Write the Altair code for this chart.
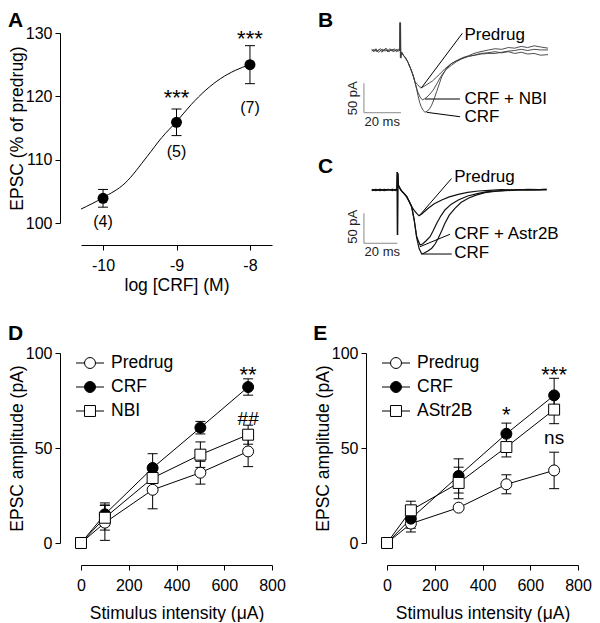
import altair as alt
import pandas as pd

FONT = "Liberation Sans"
W, H = 191, 190

# ---------------- Panel A : concentration-response ----------------
a_logc = [-10, -9, -8]
a_mean = [103.9, 115.9, 125.0]
a_sem = [1.4, 2.1, 3.0]
a_n_labels = ["(4)", "(5)", "(7)"]
a_n_pos = [100.2, 111.2, 118.2]
a_sig_x = [-9, -8]
a_sig_labels = ["***", "***"]
a_sig_pos = [119.7, 129.0]
a_fit_x = [-10.3, -10.0, -9.7, -9.4, -9.2, -9.0, -8.8, -8.6, -8.4, -8.2, -8.0]
a_fit_y = [102.2, 104.0, 106.3, 110.5, 113.5, 116.0, 118.7, 121.0, 122.8, 124.1, 125.0]

# ---------------- Panels D / E : input-output ----------------
stim_x = [0, 100, 300, 500, 700]
d_names = ["Predrug", "CRF", "NBI"]
d_means = [[0, 10.7, 28.0, 37.0, 48.2],
           [0, 15.1, 39.5, 60.7, 82.1],
           [0, 13.3, 34.2, 46.5, 57.0]]
d_sems = [[0, 9.3, 10.0, 6.0, 8.0],
          [0, 6.0, 7.5, 3.3, 4.3],
          [0, 6.5, 5.0, 6.7, 5.0]]
d_star_x = [700]
d_star_y = [88.6]
d_star_text = ["**"]
d_note_x = [700]
d_note_y = [65.5]
d_note_text = ["##"]

e_names = ["Predrug", "CRF", "AStr2B"]
e_means = [[0, 10.2, 18.6, 30.9, 38.2],
           [0, 12.8, 35.3, 57.5, 77.7],
           [0, 17.2, 31.6, 50.5, 70.2]]
e_sems = [[0, 4.4, 1.0, 5.0, 9.6],
          [0, 5.0, 9.0, 5.6, 9.0],
          [0, 4.8, 8.3, 5.2, 7.4]]
e_star_x = [500, 700]
e_star_y = [67.6, 88.6]
e_star_text = ["*", "***"]
e_note_x = [700]
e_note_y = [55.3]
e_note_text = ["ns"]

# ---------------- Panel B traces (t in ms, current in pA) ----------------
b_predrug = [(-15.3, 1), (-14.2, -2), (-13.0, 3), (-12.1, -1), (-11.0, 2), (-9.8, -3), (-8.7, 1),
             (-7.5, 4), (-6.4, -2), (-5.2, 1), (-4.1, -1), (-3.0, 3), (-1.8, -2), (-0.6, 1),
             (-0.2, 0), (0.0, 48), (0.2, -12), (0.5, -4), (1.0, -3), (1.8, -8), (3.0, -12),
             (4.3, -20), (5.5, -29), (6.5, -37), (7.4, -45), (8.1, -53), (9.5, -58), (10.6, -62),
             (11.7, -63), (13.0, -61), (14.5, -58), (16.0, -55), (17.5, -52), (19.5, -46),
             (21.5, -40), (24.3, -31), (27.0, -24), (29.5, -19), (31.4, -16), (34.0, -12),
             (37.0, -9), (40.0, -5), (42.2, -3), (45.0, -1), (48.0, 1), (51.4, 3), (55.0, 2),
             (58.5, 5), (62.0, 4), (65.5, 7), (69.0, 5), (72.5, 8), (76.0, 6), (80.0, 4)]
b_crf_nbi = [(-15.3, -1), (-14.0, 2), (-12.8, -2), (-11.6, 1), (-10.4, 3), (-9.2, -1), (-8.0, 2),
             (-6.8, -2), (-5.6, 3), (-4.4, 0), (-3.2, -2), (-2.0, 2), (-0.8, -1), (-0.1, 1),
             (0.1, 46), (0.35, -10), (0.7, -3), (1.1, -4), (1.8, -8), (3.0, -13), (4.3, -20),
             (5.5, -29), (6.5, -37), (7.4, -46), (8.1, -54), (9.0, -64), (9.7, -71), (10.8, -79),
             (12.1, -84), (13.4, -82), (14.6, -79), (16.2, -74), (18.0, -67), (20.2, -55),
             (22.5, -42), (25.0, -32), (27.9, -25), (30.5, -19), (33.5, -14), (36.9, -10),
             (40.0, -8), (43.5, -5), (47.0, -4), (51.4, -2), (55.0, -4), (58.5, -2), (62.0, -5),
             (65.5, -3), (69.0, -6), (72.5, -5), (76.0, -8), (80.0, -7)]
b_crf = [(-15.3, 2), (-14.1, -1), (-12.9, 1), (-11.7, -3), (-10.5, 0), (-9.3, 2), (-8.1, -1),
         (-6.9, 1), (-5.7, -2), (-4.5, 2), (-3.3, 1), (-2.1, -1), (-0.9, 2), (0.1, 0),
         (0.3, 47), (0.5, -13), (0.8, -5), (1.2, -4), (1.8, -8), (3.0, -13), (4.3, -20),
         (5.5, -29), (6.5, -37), (7.4, -46), (8.1, -54), (9.0, -66), (9.7, -76), (10.6, -88),
         (11.4, -95), (12.5, -102), (13.5, -105), (14.8, -103), (16.0, -99), (17.1, -93),
         (18.5, -82), (19.8, -70), (21.2, -57), (22.5, -45), (25.0, -31), (27.9, -22),
         (31.0, -17), (34.0, -13), (36.9, -10), (40.5, -8), (44.0, -6), (47.5, -5), (51.4, -5),
         (55.0, -3), (58.5, -1), (62.0, 0), (65.5, 2), (69.0, 0), (72.5, 2), (76.0, 1), (80.0, 1)]
b_label_text = ["Predrug", "CRF + NBI", "CRF"]
b_label_t = [34.8, 34.8, 34.8]
b_label_pa = [26.0, -82.5, -112.5]
b_lead_t0 = [11.4, 13.5, 14.4]
b_lead_p0 = [-64.3, -82.5, -105.1]
b_lead_t1 = [33.7, 32.4, 32.4]
b_lead_p1 = [29.3, -82.5, -112.6]
b_bar_t0 = [-19.5, -19.5]
b_bar_p0 = [-105.8, -105.8]
b_bar_t1 = [-19.5, 0.5]
b_bar_p1 = [-55.8, -105.8]

# ---------------- Panel C traces ----------------
c_predrug = [(-15.4, 0), (-13.0, 1), (-10.5, -1), (-8.0, 1), (-5.5, 0), (-3.0, 1), (-1.0, -1),
             (-0.3, 0), (-0.1, 30), (0.0, -75), (0.15, 28), (0.5, 8), (1.2, 4), (2.5, -2),
             (4.0, -6), (5.5, -11), (7.0, -19), (8.5, -28), (10.0, -34), (11.5, -39), (12.9, -43),
             (14.5, -40), (16.5, -35), (18.4, -30.5), (22.0, -23), (26.5, -16.7), (31.0, -11.5),
             (36.4, -7.2), (42.0, -4), (48.4, -1.7), (55.0, -0.5), (62.0, 0.5), (70.0, 0),
             (78.0, 1), (85.0, 0.5), (89.3, 1.5)]
c_crf_astr = [(-15.4, 1), (-13.0, -1), (-10.5, 1), (-8.0, 0), (-5.5, 1), (-3.0, -1), (-1.0, 1),
              (-0.3, 0), (-0.1, 30), (0.0, -75), (0.15, 28), (0.5, 8), (1.2, 4), (2.5, -2),
              (4.0, -6), (5.5, -11), (7.0, -19), (8.5, -28), (10.0, -50), (11.5, -78),
              (13.5, -91.7), (15.0, -90), (17.0, -85), (19.5, -77.8), (21.5, -67), (23.5, -55.5),
              (26.0, -43), (28.4, -33.3), (32.0, -24), (36.4, -16.7), (42.0, -10), (48.4, -5.5),
              (53.0, -3), (58.4, -1.7), (65.0, -0.5), (72.0, 0.5), (80.0, 0), (89.3, 0.8)]
c_crf = [(-15.4, -1), (-13.0, 0), (-10.5, 1), (-8.0, -1), (-5.5, 0), (-3.0, 1), (-1.0, 0),
         (-0.3, 0), (-0.1, 30), (0.0, -75), (0.15, 28), (0.5, 8), (1.2, 4), (2.5, -2),
         (4.0, -6), (5.5, -11), (7.0, -19), (8.5, -28), (10.0, -50), (11.5, -80), (13.0, -98),
         (14.5, -106.7), (16.0, -105), (18.0, -102), (20.5, -97), (22.5, -90), (24.4, -80.5),
         (26.5, -68), (28.4, -55.5), (31.0, -42), (34.4, -30.5), (38.0, -21), (42.4, -13.8),
         (47.0, -8.5), (52.4, -4.5), (58.0, -2.5), (64.4, -1.2), (72.0, 0), (80.0, 0.5), (89.3, 0)]
c_label_text = ["Predrug", "CRF + Astr2B", "CRF"]
c_label_t = [34.0, 34.0, 34.0]
c_label_pa = [22.5, -73.0, -105.0]
c_lead_t0 = [12.9, 13.5, 14.9]
c_lead_p0 = [-43.3, -94.5, -106.7]
c_lead_t1 = [32.3, 31.4, 32.5]
c_lead_p1 = [19.0, -73.8, -106.7]
c_bar_t0 = [-20.1, -20.1]
c_bar_p0 = [-88.8, -88.8]
c_bar_t1 = [-20.1, -0.1]
c_bar_p1 = [-38.8, -88.8]

scale_texts = ["50 pA", "20 ms"]
b_scale_t = [-25.6, -9.6]
b_scale_pa = [-81.3, -121.1]
c_scale_t = [-26.8, -9.1]
c_scale_pa = [-61.2, -102.8]


# ---------------- helpers ----------------
def x_axis(values, title, title_pad, label_expr="'' + datum.value"):
    return alt.Axis(values=values, title=title, offset=22, grid=False,
                    domainColor="black", domainWidth=1, tickColor="black", tickSize=5,
                    tickWidth=1, labelColor="black", labelFontSize=16, labelFont=FONT,
                    labelPadding=7, labelFlush=False, labelOverlap=False, labelExpr=label_expr,
                    titleColor="black", titleFontSize=17.5, titleFont=FONT,
                    titleFontWeight="normal", titlePadding=title_pad)


def y_axis(values, title):
    return alt.Axis(values=values, title=title, offset=21, grid=False,
                    domainColor="black", domainWidth=1, tickColor="black", tickSize=5,
                    tickWidth=1, labelColor="black", labelFontSize=16, labelFont=FONT,
                    labelPadding=3, labelFlush=False, labelOverlap=False,
                    titleColor="black", titleFontSize=17.5, titleFont=FONT,
                    titleFontWeight="normal", titlePadding=-1)


def letter(ch, x, y):
    return alt.Chart(pd.DataFrame({"lbl": [ch]})).mark_text(
        fontSize=21, fontWeight="bold", align="left", baseline="top", color="black", font=FONT
    ).encode(x=alt.value(x), y=alt.value(y), text="lbl:N")


# ---------------- Panel A ----------------
xa = alt.Scale(domain=[-10.3, -7.7], nice=False, zero=False)
ya = alt.Scale(domain=[100, 130], nice=False, zero=False)
ax_xa = x_axis([-10, -9, -8], "log [CRF] (M)", 3)
ax_ya = y_axis([100, 110, 120, 130], "EPSC (% of predrug)")
XA = alt.X("logc:Q", scale=xa, axis=ax_xa)

df_a = pd.DataFrame({"logc": a_logc, "mean": a_mean, "sem": a_sem, "n": a_n_labels, "npos": a_n_pos})
df_fit = pd.DataFrame({"logc": a_fit_x, "val": a_fit_y})
df_asig = pd.DataFrame({"logc": a_sig_x, "sig": a_sig_labels, "pos": a_sig_pos})

a_fit = alt.Chart(df_fit).mark_line(color="black", strokeWidth=1, interpolate="monotone").encode(
    x=XA, y=alt.Y("val:Q", scale=ya, axis=ax_ya))
a_base = alt.Chart(df_a).transform_calculate(lo="datum.mean - datum.sem", hi="datum.mean + datum.sem")
a_err = a_base.mark_rule(color="black", strokeWidth=1).encode(
    x=XA, y=alt.Y("lo:Q", scale=ya, axis=ax_ya), y2="hi:Q")
a_caps = a_base.transform_fold(["lo", "hi"], as_=["end", "v"]).mark_tick(
    orient="horizontal", size=10, thickness=1, color="black", opacity=1).encode(
    x=XA, y=alt.Y("v:Q", scale=ya, axis=ax_ya))
a_pts = alt.Chart(df_a).mark_point(filled=True, size=120, color="black", opacity=1).encode(
    x=XA, y=alt.Y("mean:Q", scale=ya, axis=ax_ya))
a_n = alt.Chart(df_a).mark_text(fontSize=16, color="black", baseline="middle").encode(
    x=XA, y=alt.Y("npos:Q", scale=ya, axis=ax_ya), text="n:N")
a_sig = alt.Chart(df_asig).mark_text(fontSize=22, color="black", baseline="middle").encode(
    x=XA, y=alt.Y("pos:Q", scale=ya, axis=ax_ya), text="sig:N")

panel_a = alt.layer(a_fit, a_err, a_caps, a_pts, a_n, a_sig, letter("A", -73, -23)).properties(
    width=W, height=H)


# ---------------- Panels D / E ----------------
def stim_panel(names, means, sems, star_x, star_y, star_text, note_x, note_y, note_text,
               ch, ch_x):
    rows = []
    for name, m, s in zip(names, means, sems):
        for xv, mv, sv in zip(stim_x, m, s):
            rows.append({"series": name, "x": xv, "y": mv, "sem": sv})
    df = pd.DataFrame(rows)
    xs = alt.Scale(domain=[0, 800], nice=False, zero=False)
    ys = alt.Scale(domain=[0, 100], nice=False, zero=False)
    ax = x_axis([0, 200, 400, 600, 800], "Stimulus intensity (\u03bcA)", 11)
    ay = y_axis([0, 50, 100], "EPSC amplitude (pA)")
    X = alt.X("x:Q", scale=xs, axis=ax)
    shape = alt.Shape("series:N", scale=alt.Scale(domain=names, range=["circle", "circle", "square"]),
                      legend=None)
    fill = alt.Fill("series:N", scale=alt.Scale(domain=names, range=["white", "black", "white"]),
                    legend=None)
    base = alt.Chart(df).transform_filter("datum.sem > 0").transform_calculate(
        lo="datum.y - datum.sem", hi="datum.y + datum.sem")
    err = base.mark_rule(color="black", strokeWidth=1).encode(
        x=X, y=alt.Y("lo:Q", scale=ys, axis=ay), y2="hi:Q")
    caps = base.transform_fold(["lo", "hi"], as_=["end", "v"]).mark_tick(
        orient="horizontal", size=10, thickness=1, color="black", opacity=1).encode(
        x=X, y=alt.Y("v:Q", scale=ys, axis=ay))
    lines = alt.Chart(df).mark_line(color="black", strokeWidth=1).encode(
        x=X, y=alt.Y("y:Q", scale=ys, axis=ay), detail="series:N")
    pts = alt.Chart(df).mark_point(filled=True, size=120, stroke="black", strokeWidth=1,
                                   opacity=1).encode(
        x=X, y=alt.Y("y:Q", scale=ys, axis=ay), shape=shape, fill=fill)
    stars = alt.Chart(pd.DataFrame({"x": star_x, "y": star_y, "t": star_text})).mark_text(
        fontSize=22, color="black", baseline="middle").encode(
        x=X, y=alt.Y("y:Q", scale=ys, axis=ay), text="t:N")
    notes = alt.Chart(pd.DataFrame({"x": note_x, "y": note_y, "t": note_text})).mark_text(
        fontSize=19, color="black", baseline="middle").encode(
        x=X, y=alt.Y("y:Q", scale=ys, axis=ay), text="t:N")
    main = alt.layer(err, caps, lines, pts, stars, notes)

    leg_base = alt.Chart(pd.DataFrame({"series": names})).transform_window(row="row_number()")
    leg_y = alt.Y("row:Q", scale=alt.Scale(domain=[1, 3], range=[10, 58], nice=False, zero=False),
                  axis=None)
    leg_rule = leg_base.mark_rule(color="black", strokeWidth=1).encode(
        x=alt.value(-5), x2=alt.value(23), y=leg_y)
    leg_pts = leg_base.mark_point(filled=True, size=120, stroke="black", strokeWidth=1,
                                  opacity=1).encode(
        x=alt.value(9), y=leg_y, shape=shape, fill=fill)
    leg_txt = leg_base.mark_text(align="left", baseline="middle", fontSize=17.5,
                                 color="black").encode(
        x=alt.value(30), y=leg_y, text="series:N")
    legend = alt.layer(leg_rule, leg_pts, leg_txt)
    return alt.layer(main, legend, letter(ch, ch_x, -29.6)).resolve_scale(y="independent").properties(
        width=W, height=H)


panel_d = stim_panel(d_names, d_means, d_sems, d_star_x, d_star_y, d_star_text,
                     d_note_x, d_note_y, d_note_text, "D", -73)
panel_e = stim_panel(e_names, e_means, e_sems, e_star_x, e_star_y, e_star_text,
                     e_note_x, e_note_y, e_note_text, "E", -73.7)


# ---------------- Panels B / C (traces) ----------------
def trace_panel(traces, names, color, width, xdom, xrange, ydom, yrange,
                lab_t, lab_p, lab_txt, l_t0, l_p0, l_t1, l_p1,
                bar_t0, bar_p0, bar_t1, bar_p1, sc_t, sc_p):
    rows = []
    for name, tr in zip(names, traces):
        for t, p in tr:
            rows.append({"trace": name, "t": t, "pA": p})
    df = pd.DataFrame(rows)
    xs = alt.Scale(domain=xdom, range=xrange, nice=False, zero=False)
    ys = alt.Scale(domain=ydom, range=yrange, nice=False, zero=False)
    lines = alt.Chart(df).mark_line(color=color, strokeWidth=width).encode(
        x=alt.X("t:Q", scale=xs, axis=None), y=alt.Y("pA:Q", scale=ys, axis=None),
        detail="trace:N")
    leads = alt.Chart(pd.DataFrame({"t0": l_t0, "p0": l_p0, "t1": l_t1, "p1": l_p1})).mark_rule(
        color="black", strokeWidth=1).encode(
        x=alt.X("t0:Q", scale=xs, axis=None), y=alt.Y("p0:Q", scale=ys, axis=None),
        x2="t1:Q", y2="p1:Q")
    labels = alt.Chart(pd.DataFrame({"t": lab_t, "pA": lab_p, "txt": lab_txt})).mark_text(
        align="left", baseline="middle", fontSize=17, color="black").encode(
        x=alt.X("t:Q", scale=xs, axis=None), y=alt.Y("pA:Q", scale=ys, axis=None), text="txt:N")
    bars = alt.Chart(pd.DataFrame({"t0": bar_t0, "p0": bar_p0, "t1": bar_t1, "p1": bar_p1})).mark_rule(
        color="#8a8a8a", strokeWidth=1).encode(
        x=alt.X("t0:Q", scale=xs, axis=None), y=alt.Y("p0:Q", scale=ys, axis=None),
        x2="t1:Q", y2="p1:Q")
    sdf = pd.DataFrame({"t": sc_t, "pA": sc_p, "txt": scale_texts})
    s_v = alt.Chart(sdf).transform_filter("datum.txt == '50 pA'").mark_text(
        fontSize=13, angle=270, baseline="middle", color="#222").encode(
        x=alt.X("t:Q", scale=xs, axis=None), y=alt.Y("pA:Q", scale=ys, axis=None), text="txt:N")
    s_h = alt.Chart(sdf).transform_filter("datum.txt == '20 ms'").mark_text(
        fontSize=13, baseline="middle", color="#222").encode(
        x=alt.X("t:Q", scale=xs, axis=None), y=alt.Y("pA:Q", scale=ys, axis=None), text="txt:N")
    return alt.layer(bars, lines, leads, labels, s_v, s_h)


panel_b = trace_panel([b_predrug, b_crf_nbi, b_crf], b_label_text, "#3a3a3a", 0.9,
                      [-20, 80], [-24, 161], [-150, 50], [105.7, -11.9],
                      b_label_t, b_label_pa, b_label_text,
                      b_lead_t0, b_lead_p0, b_lead_t1, b_lead_p1,
                      b_bar_t0, b_bar_p0, b_bar_t1, b_bar_p1, b_scale_t, b_scale_pa)
panel_c = trace_panel([c_predrug, c_crf_astr, c_crf], c_label_text, "#111111", 1.2,
                      [-20, 90], [-22.9, 160.8], [-150, 50], [247, 127],
                      c_label_t, c_label_pa, c_label_text,
                      c_lead_t0, c_lead_p0, c_lead_t1, c_lead_p1,
                      c_bar_t0, c_bar_p0, c_bar_t1, c_bar_p1, c_scale_t, c_scale_pa)

panel_bc = alt.layer(panel_b, panel_c, letter("B", -69, -23), letter("C", -69, 123.4)).resolve_scale(
    x="independent", y="independent").properties(width=W, height=H)

chart = alt.concat(panel_a, panel_bc, panel_d, panel_e, columns=2,
                   spacing={"row": 130, "column": 115}, bounds="flush",
                   padding={"left": 0, "top": 2, "right": 0, "bottom": 0}).resolve_scale(
    shape="independent", fill="independent").configure(
    font=FONT).configure_view(stroke=None).configure_text(font=FONT)

chart.save("out.html", embed_options={"renderer": "svg", "actions": False})
